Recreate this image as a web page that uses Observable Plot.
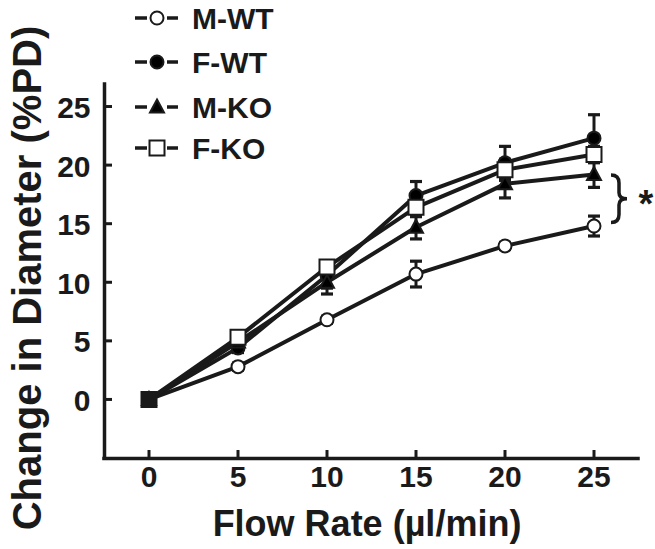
<!DOCTYPE html>
<html>
<head>
<meta charset="utf-8">
<script src="https://cdn.jsdelivr.net/npm/d3@7"></script>
<script src="https://cdn.jsdelivr.net/npm/@observablehq/plot@0.6"></script>
<style>
  html, body { margin: 0; padding: 0; background: #fff; }
  #chart svg { display: block; }
</style>
</head>
<body>
<div id="chart"></div>
<script>
// ---- data ----
const flow = [0, 5, 10, 15, 20, 25];
const seriesNames = ["M-WT", "F-WT", "M-KO", "F-KO"];
const mWT    = [0, 2.8, 6.8, 10.7, 13.1, 14.8];
const mWTErr = [0, 0.3, 0.3, 1.1, 0.3, 0.85];
const fWT    = [0, 4.4, 10.6, 17.4, 20.2, 22.3];
const fWTErr = [0, 0.4, 1.1, 1.2, 1.4, 2.0];
const mKO    = [0, 4.9, 10.0, 14.7, 18.4, 19.2];
const mKOErr = [0, 0.4, 1.0, 1.0, 1.2, 1.1];
const fKO    = [0, 5.3, 11.3, 16.4, 19.6, 20.9];
const fKOErr = [0, 0.4, 0.5, 0.8, 0.9, 0.7];
const yTicks = [0, 5, 10, 15, 20, 25];
const xLabel = "Flow Rate (µl/min)";
const yLabel = "Change in Diameter (%PD)";

const means = [mWT, fWT, mKO, fKO];
const errs = [mWTErr, fWTErr, mKOErr, fKOErr];
const rows = seriesNames.map((s, i) => flow.map((x, j) => ({series: s, x, y: means[i][j], err: errs[i][j]})));

// ---- symbols ----
const capSym = {draw(c) { c.rect(-6, -1.6, 12, 3.2); }};
const squareSym = {draw(c) { c.rect(-7.5, -7.5, 15, 15); }};
const triSym = {draw(c) { c.moveTo(0, -7.5); c.lineTo(7, 5.5); c.lineTo(-7, 5.5); c.closePath(); }};
const circSym = {draw(c) { c.moveTo(6.5, 0); c.arc(0, 0, 6.5, 0, 2 * Math.PI); }};
const style = {
  "M-WT": {symbol: circSym, fill: "white"},
  "F-WT": {symbol: circSym, fill: "black"},
  "M-KO": {symbol: triSym, fill: "black"},
  "F-KO": {symbol: squareSym, fill: "white"}
};

const font = "Liberation Sans, Arial, Helvetica, sans-serif";
const marks = [];
// axes lines
marks.push(Plot.ruleY([-5.04], {stroke: "#1a1a1a", strokeWidth: 3.5, strokeLinecap: "square"}));
marks.push(Plot.ruleX([-2.5], {stroke: "#1a1a1a", strokeWidth: 3.5, strokeLinecap: "square"}));
// inward ticks
marks.push(Plot.axisX({ticks: flow, tickSize: 8, tickFormat: () => "", dy: -8, strokeWidth: 3, stroke: "#1a1a1a", label: null}));
marks.push(Plot.axisY({ticks: yTicks, tickSize: 8, tickFormat: () => "", dx: 8, strokeWidth: 3, stroke: "#1a1a1a", label: null}));
// tick labels
marks.push(Plot.axisX({ticks: flow, tickSize: 0, tickPadding: 7, fontSize: 30, fontWeight: "bold", fontFamily: font, fill: "#1a1a1a", label: null}));
marks.push(Plot.axisY({ticks: yTicks, tickSize: 0, tickPadding: 14, fontSize: 30, fontWeight: "bold", fontFamily: font, fill: "#1a1a1a", dy: 2, label: null}));

// lines
rows.forEach(r => marks.push(Plot.line(r, {x: "x", y: "y", stroke: "#1a1a1a", strokeWidth: 4})));
// error bars
rows.forEach(r => {
  const e = r.filter(d => d.err > 0);
  marks.push(Plot.ruleX(e, {x: "x", y1: d => d.y - d.err, y2: d => d.y + d.err, stroke: "#1a1a1a", strokeWidth: 3}));
  marks.push(Plot.dot(e, {x: "x", y: d => d.y + d.err, symbol: capSym, fill: "#1a1a1a", stroke: "none"}));
  marks.push(Plot.dot(e, {x: "x", y: d => d.y - d.err, symbol: capSym, fill: "#1a1a1a", stroke: "none"}));
});
// markers
rows.forEach(r => {
  const st = style[r[0].series];
  marks.push(Plot.dot(r, {x: "x", y: "y", symbol: st.symbol,
    fill: d => (d.x === 0 ? "#1a1a1a" : st.fill), stroke: "#1a1a1a", strokeWidth: 2}));
});

const plot = Plot.plot({
  width: 655, height: 549,
  marginLeft: 104, marginRight: 17, marginTop: 84, marginBottom: 91,
  x: {domain: [-2.5, 27.5]},
  y: {domain: [-5.04, 26.88]},
  style: {fontFamily: font, background: "white"},
  marks
});
document.getElementById("chart").appendChild(plot);

// ---- annotations: labels, legend, brace ----
const svg = d3.select(plot);
const ys = plot.scale("y");
const xs = plot.scale("x");

svg.append("text").attr("x", (xs.apply(-2.5) + xs.apply(27.5)) / 2 - 4).attr("y", 536)
  .attr("text-anchor", "middle").attr("font-family", font).attr("font-weight", "bold")
  .attr("font-size", 36).attr("fill", "#1a1a1a").text(xLabel);

svg.append("text").attr("transform", "translate(41,278) rotate(-90)")
  .attr("text-anchor", "middle").attr("font-family", font).attr("font-weight", "bold")
  .attr("font-size", 40).attr("fill", "#1a1a1a").text(yLabel);

// legend
const legY = [18, 62, 107, 148];
seriesNames.forEach((s, i) => {
  const g = svg.append("g").attr("transform", `translate(157,${legY[i]})`);
  g.append("line").attr("x1", -22).attr("x2", -10).attr("stroke", "#1a1a1a").attr("stroke-width", 3.5);
  g.append("line").attr("x1", 10).attr("x2", 21).attr("stroke", "#1a1a1a").attr("stroke-width", 3.5);
  const p = d3.path();
  style[s].symbol.draw(p);
  g.append("path").attr("d", p.toString()).attr("fill", style[s].fill).attr("stroke", "#1a1a1a").attr("stroke-width", 2);
  g.append("text").attr("x", 35).attr("y", 11).attr("text-anchor", "start").attr("font-family", font).attr("font-weight", "bold")
    .attr("font-size", 30).attr("fill", "#1a1a1a").text(s);
});

// brace between M-KO and M-WT at the last flow rate
const yT = ys.apply(mKO[5]) + 1, yB = ys.apply(mWT[5]) - 3, yM = (yT + yB) / 2;
const x0 = 611;
const bp = `M${x0},${yT} Q${x0 + 8},${yT} ${x0 + 8},${yT + 8} L${x0 + 8},${yM - 6} Q${x0 + 8},${yM} ${x0 + 16},${yM} Q${x0 + 8},${yM} ${x0 + 8},${yM + 6} L${x0 + 8},${yB - 8} Q${x0 + 8},${yB} ${x0},${yB}`;
svg.append("path").attr("d", bp).attr("fill", "none").attr("stroke", "#1a1a1a").attr("stroke-width", 3.5);
svg.append("text").attr("x", 646).attr("y", 217).attr("text-anchor", "middle").attr("font-family", font)
  .attr("font-weight", "bold").attr("font-size", 38).attr("fill", "#1a1a1a").text("*");
</script>
</body>
</html>
